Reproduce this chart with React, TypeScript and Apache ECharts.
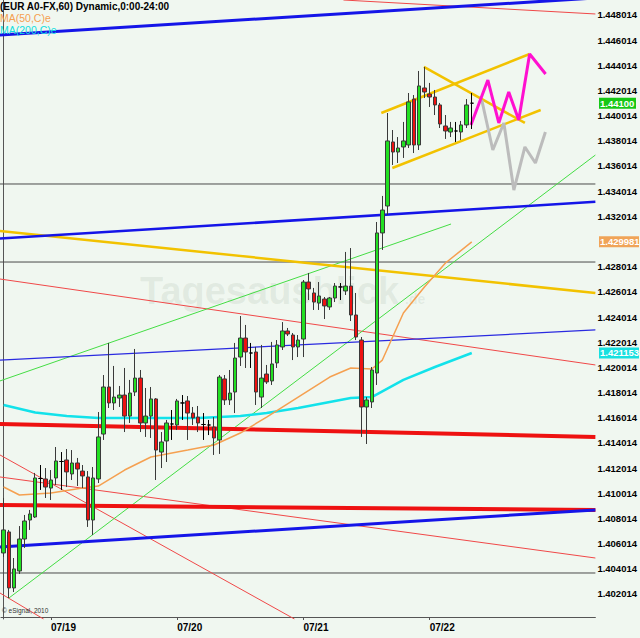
import React, { useEffect, useRef } from "react";
import * as echarts from "echarts";

// ---------- categories (hourly slots) ----------
const slotCount = 113;
const firstDay = 18;
const firstHour = 15;
const categories: string[] = Array.from({ length: slotCount }, (_, i) => {
  const t = firstHour + i;
  const day = firstDay + Math.floor(t / 24);
  const hour = t % 24;
  return `07/${day} ${String(hour).padStart(2, "0")}:00`;
});
const labelledDays = ["07/19", "07/20", "07/21", "07/22"];

// ---------- OHLC ----------
const opens = [
  1.40526, 1.40693, 1.40248, 1.40383, 1.40637, 1.40788, 1.40812, 1.41118, 1.41114, 1.41042,
  1.41122, 1.41253, 1.41265, 1.41154, 1.41241, 1.41177, 1.4113, 1.40788, 1.41114, 1.41471,
  1.41845, 1.41718, 1.41757, 1.41781, 1.41614, 1.41805, 1.41916, 1.41559, 1.41614, 1.4175,
  1.41328, 1.41416, 1.41551, 1.41543, 1.41718, 1.41734, 1.41638, 1.41606, 1.41547, 1.41543,
  1.41527, 1.41424, 1.41909, 1.41742, 1.41805, 1.42083, 1.42234, 1.42115, 1.42123, 1.41765,
  1.41948, 1.41893, 1.42036, 1.42163, 1.4229, 1.42258, 1.42163, 1.42226, 1.42679, 1.42592,
  1.42512, 1.42544, 1.42481, 1.42552, 1.4264, 1.42608, 1.42647, 1.42417, 1.42218, 1.41686,
  1.41726, 1.41956, 1.43069, 1.43283, 1.43792, 1.43712, 1.43752, 1.43768, 1.44133, 1.43768,
  1.44221, 1.44173, 1.44149, 1.44086, 1.43919, 1.43871, 1.43879, 1.43871, 1.43927, 1.441,
];
const closes = [
  1.40709, 1.40248, 1.40399, 1.40637, 1.4078, 1.40836, 1.41122, 1.41118, 1.4105, 1.41106,
  1.41257, 1.41253, 1.4117, 1.41241, 1.41193, 1.41138, 1.40788, 1.41122, 1.41448, 1.41845,
  1.41718, 1.41765, 1.41781, 1.41614, 1.41797, 1.41916, 1.41559, 1.41614, 1.4175, 1.41344,
  1.41408, 1.41559, 1.41551, 1.41734, 1.41718, 1.41638, 1.41599, 1.41559, 1.41547, 1.41543,
  1.4144, 1.41924, 1.41742, 1.41797, 1.42075, 1.42234, 1.42123, 1.42115, 1.41805, 1.41916,
  1.41885, 1.42028, 1.42179, 1.4229, 1.42266, 1.42163, 1.42218, 1.42679, 1.42624, 1.4252,
  1.42568, 1.42489, 1.42552, 1.42647, 1.4264, 1.42647, 1.42417, 1.42242, 1.41686, 1.41742,
  1.4198, 1.43069, 1.43251, 1.438, 1.43712, 1.43744, 1.438, 1.4411, 1.43768, 1.44237,
  1.44189, 1.44149, 1.44086, 1.43935, 1.43879, 1.43903, 1.43879, 1.43927, 1.44086, 1.441,
];
const lows = [
  1.40494, 1.40168, 1.40216, 1.40359, 1.40566, 1.40709, 1.40804, 1.41027, 1.40963, 1.40947,
  1.41066, 1.41027, 1.4105, 1.41106, 1.41058, 1.41042, 1.40733, 1.40669, 1.41082, 1.41424,
  1.41678, 1.41662, 1.41686, 1.41487, 1.41559, 1.41773, 1.41487, 1.41448, 1.4144, 1.41106,
  1.41201, 1.41249, 1.41424, 1.41503, 1.41583, 1.41424, 1.41543, 1.41487, 1.41424, 1.41463,
  1.41305, 1.41313, 1.41702, 1.41702, 1.41638, 1.42012, 1.41996, 1.41996, 1.41702, 1.41678,
  1.41869, 1.41861, 1.41996, 1.42139, 1.4225, 1.42059, 1.42083, 1.42083, 1.42536, 1.42457,
  1.42457, 1.42385, 1.42457, 1.4252, 1.42536, 1.42576, 1.42369, 1.42218, 1.41448, 1.41392,
  1.41678, 1.41861, 1.42934, 1.43212, 1.43609, 1.43625, 1.43665, 1.43744, 1.43704, 1.43728,
  1.44141, 1.4407, 1.44006, 1.43903, 1.43816, 1.43831, 1.43792, 1.43808, 1.43903, 1.43895,
];
const highs = [
  1.40963, 1.40709, 1.40486, 1.4074, 1.40828, 1.40868, 1.41162, 1.41225, 1.41201, 1.41185,
  1.41368, 1.41328, 1.41352, 1.41344, 1.41281, 1.41225, 1.41177, 1.41209, 1.41646, 1.4194,
  1.42195, 1.42012, 1.41853, 1.41996, 1.41901, 1.42147, 1.4198, 1.41837, 1.41845, 1.41757,
  1.41487, 1.41583, 1.41662, 1.4175, 1.41781, 1.41773, 1.41686, 1.41694, 1.41638, 1.41583,
  1.41606, 1.4194, 1.4194, 1.4198, 1.42195, 1.42409, 1.42338, 1.42195, 1.42163, 1.42179,
  1.4202, 1.42203, 1.42218, 1.42361, 1.42314, 1.42274, 1.42258, 1.42695, 1.42751, 1.42632,
  1.42679, 1.4256, 1.4256, 1.42671, 1.42671, 1.42918, 1.42949, 1.42592, 1.42242, 1.41765,
  1.42004, 1.43156, 1.43363, 1.44022, 1.43887, 1.43831, 1.43951, 1.44181, 1.44165, 1.44356,
  1.44388, 1.44261, 1.44205, 1.44102, 1.44006, 1.43951, 1.43951, 1.43959, 1.44133, 1.44181,
];

// ---------- moving averages: [slot index, value] ----------
const ma50 = [
  [0, 1.4105], [3, 1.40987], [9, 1.41003], [15, 1.41042], [18, 1.41058], [23, 1.41185],
  [28, 1.41289], [35, 1.41344], [40, 1.41384], [45, 1.41479], [50, 1.41606], [56, 1.41765],
  [62, 1.41924], [66, 1.41996], [70, 1.41988], [72, 1.42059], [76, 1.42433], [80, 1.4264],
  [84, 1.4283], [89, 1.429981],
];
const ma200 = [
  [0, 1.41702], [6, 1.41642], [12, 1.41614], [18, 1.41599], [26, 1.41599], [37, 1.41599],
  [45, 1.41614], [50, 1.41638], [56, 1.41678], [62, 1.41726], [66, 1.41757], [70, 1.41765],
  [76, 1.41901], [82, 1.42004], [89, 1.421153],
];

// ---------- drawn trend lines: [slot index, price] ----------
const blueUpper = [[-0.7, 1.44642], [112.5, 1.44936]];
const blueMiddle = [[-0.7, 1.43024], [112.5, 1.43317]];
const blueLower = [[-0.7, 1.40574], [112.5, 1.40868]];
const blueThin = [[-0.7, 1.42059], [112.5, 1.42298]];
const redThickUpper = [[-0.7, 1.41551], [112.5, 1.41448]];
const redThickLower = [[-0.7, 1.40907], [112.5, 1.40868]];
const redThinTop = [[64.6, 1.4492], [112.5, 1.44809]];
const redThinMiddle = [[-0.7, 1.42703], [112.5, 1.4202]];
const redThinLower = [[-0.7, 1.4113], [112.5, 1.40486]];
const redSteep = [[-0.7, 1.41305], [55.3, 1.40001]];
const redSteepLow = [[-0.7, 1.40208], [7.6, 1.40001]];
const greenUpper = [[-0.7, 1.41893], [85.06, 1.4314]];
const greenLong = [[1.0, 1.40168], [112.5, 1.43688]];
const yellowLong = [[-0.7, 1.43085], [112.5, 1.42592]];
const channelTop = [[71.8, 1.44022], [100.0, 1.44491]];
const channelBottom = [[73.9, 1.43585], [102.1, 1.44046]];
const channelCross = [[79.9, 1.44388], [99.1, 1.43943]];
const projectionUp = [
  [88.84, 1.43927], [92.06, 1.44284], [94.14, 1.43943], [96.03, 1.44189],
  [97.93, 1.43966], [100.0, 1.44491], [103.04, 1.44332],
];
const projectionDown = [
  [90.9, 1.44125], [93.0, 1.43728], [95.1, 1.43943], [97.0, 1.4341],
  [99.1, 1.43752], [101.1, 1.43625], [103.0, 1.43871],
];
const horizontalLevels = [1.43458, 1.42838, 1.40367];

// ---------- axis ----------
const yMin = 1.400014;
const yMax = 1.4492;
const yStep = 0.002;

const FONT = '"Liberation Sans", Arial, sans-serif';

export default function App() {
  const ref = useRef<HTMLDivElement>(null);

  useEffect(() => {
    if (!ref.current) return;
    const chart = echarts.init(ref.current, undefined, { renderer: "svg" });

    const lastClose = closes[closes.length - 1];
    const lastMa50 = ma50[ma50.length - 1][1];
    const lastMa200 = ma200[ma200.length - 1][1];
    const taggedValues = [lastClose, lastMa50, lastMa200];

    const line = (data: number[][], color: string, width: number, z = 2) => ({
      type: "line",
      xAxisIndex: 1,
      yAxisIndex: 0,
      data,
      symbol: "none",
      showSymbol: false,
      silent: true,
      clip: true,
      z,
      lineStyle: { color, width },
    });

    const isDayStart = (i: number) =>
      categories[i].endsWith(" 00:00") && labelledDays.includes(categories[i].slice(0, 5));

    const series: any[] = [
      ...horizontalLevels.map((v) => line([[-0.7, v], [112.5, v]], "#4a4a4a", 1)),
      line(redThinTop, "#f04848", 1),
      line(redThinMiddle, "#f04848", 1),
      line(redThinLower, "#f04848", 1),
      line(redSteep, "#f04848", 1),
      line(redSteepLow, "#f04848", 1),
      line(greenUpper, "#44dd44", 1),
      line(greenLong, "#44dd44", 1),
      line(blueThin, "#2a2ae0", 1.3),
      line(yellowLong, "#f2c200", 2.5),
      line(redThickUpper, "#ee1111", 4),
      line(redThickLower, "#ee1111", 4),
      line(blueUpper, "#1515e8", 3),
      line(blueMiddle, "#1515e8", 2.5),
      line(blueLower, "#1515e8", 3),
      line(ma200, "#12e2ea", 2.5),
      line(ma50, "#f5a050", 1.5),
      line(channelTop, "#f2c200", 2.5),
      line(channelBottom, "#f2c200", 2.5),
      line(channelCross, "#f2c200", 2.5),
      line(projectionDown, "#bcbcbc", 3),
      line(projectionUp, "#ff10d0", 3),
      {
        type: "candlestick",
        xAxisIndex: 0,
        yAxisIndex: 0,
        z: 3,
        barWidth: 4,
        silent: true,
        data: opens.map((o, i) => [o, closes[i], lows[i], highs[i]]),
        itemStyle: {
          color: "#22e022",
          color0: "#ee1111",
          borderColor: "#3a3a3a",
          borderColor0: "#3a3a3a",
          borderColorDoji: "#000000",
          borderWidth: 1,
        },
      },
    ];

    chart.setOption({
      animation: false,
      backgroundColor: "#f0f7f0",
      grid: { left: 1, top: 0, width: 597, height: 619, containLabel: false },
      xAxis: [
        {
          type: "category",
          data: categories,
          boundaryGap: true,
          position: "bottom",
          offset: -2,
          axisLine: { show: true, lineStyle: { color: "#555", width: 1 } },
          axisTick: {
            show: true,
            alignWithLabel: true,
            interval: (i: number) => isDayStart(i),
            length: 3,
            lineStyle: { color: "#555" },
          },
          axisLabel: {
            interval: (i: number) => isDayStart(i),
            formatter: (v: string) => v.slice(0, 5),
            align: "left",
            margin: 5,
            fontWeight: "bold",
            fontSize: 10,
            fontFamily: FONT,
            color: "#000",
          },
          splitLine: { show: false },
        },
        { type: "value", min: -0.5, max: 112.5, show: false },
      ],
      yAxis: {
        type: "value",
        position: "right",
        min: yMin,
        max: yMax,
        interval: yStep,
        axisLine: { show: true, lineStyle: { color: "#555", width: 1 } },
        axisTick: { show: false },
        splitLine: { show: false },
        axisLabel: {
          showMinLabel: false,
          showMaxLabel: false,
          margin: 2,
          fontWeight: "bold",
          fontSize: 9.5,
          fontFamily: FONT,
          color: "#000",
          formatter: (v: number) => {
            const tick = Math.round((v - yMin) / yStep) * yStep + yMin;
            // a value tag sits on top of this level
            if (taggedValues.some((t) => Math.abs(t - tick) < 0.0004)) return "";
            return tick.toFixed(6);
          },
        },
      },
      series,
    });

    const tag = (value: number, text: string, fill: string, w: number) => {
      const y = chart.convertToPixel({ yAxisIndex: 0 } as any, value) as number;
      return [
        {
          type: "rect",
          z: 50,
          zlevel: 1,
          shape: { x: 599, y: y - 5.5, width: w, height: 11 },
          style: { fill },
        },
        {
          type: "text",
          z: 51,
          zlevel: 1,
          x: 600,
          y,
          style: {
            text,
            fill: "#fff",
            font: `bold 9.5px ${FONT}`,
            verticalAlign: "middle",
            align: "left",
          },
        },
      ];
    };

    chart.setOption({
      graphic: [
        {
          type: "text",
          x: 140,
          y: 272,
          z: 0,
          silent: true,
          style: { text: "Tagesausblick", font: `bold 38px ${FONT}`, fill: "rgba(120,150,120,0.13)" },
        },
        {
          type: "text",
          x: 405,
          y: 292,
          z: 0,
          silent: true,
          style: { text: ".de", font: `bold 14px ${FONT}`, fill: "rgba(120,150,120,0.13)" },
        },
        {
          type: "text",
          x: 0,
          y: 1,
          z: 20,
          zlevel: 1,
          style: { text: "(EUR A0-FX,60) Dynamic,0:00-24:00", font: `bold 10px ${FONT}`, fill: "#000" },
        },
        {
          type: "text",
          x: 0,
          y: 12,
          z: 20,
          zlevel: 1,
          style: { text: "MA(50,C)e", font: `10.5px ${FONT}`, fill: "#f5a050" },
        },
        {
          type: "text",
          x: 0,
          y: 24,
          z: 20,
          zlevel: 1,
          style: { text: "MA(200,C)e", font: `10.5px ${FONT}`, fill: "#12dede" },
        },
        {
          type: "text",
          x: 2,
          y: 607,
          z: 20,
          zlevel: 1,
          style: { text: "© eSignal, 2010", font: `6.5px ${FONT}`, fill: "#333" },
        },
        ...tag(lastClose, lastClose.toFixed(5), "#16c816", 37),
        ...tag(lastMa50, lastMa50.toFixed(6), "#f0a458", 40),
        ...tag(lastMa200, lastMa200.toFixed(6), "#18e0e0", 40),
      ],
    });

    return () => chart.dispose();
  }, []);

  return (
    <div
      ref={ref}
      style={{ position: "fixed", left: 0, top: 0, width: 640, height: 638 }}
    />
  );
}
